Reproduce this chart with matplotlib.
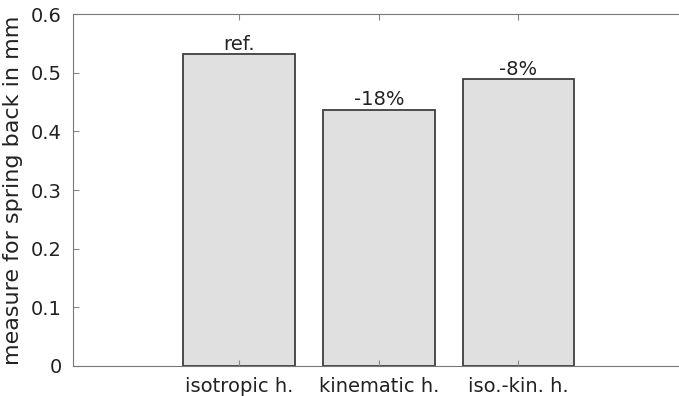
import matplotlib.pyplot as plt

# values
models = ['isotropic h.', 'kinematic h.', 'iso.-kin. h.']
springback = [0.531, 0.437, 0.489]
labels = ['ref.', '-18%', '-8%']

fig = plt.figure(figsize=(6.79, 3.96), dpi=100)
ax = fig.add_axes([0.1075, 0.0758, 0.8925, 0.8888])

pos = [1, 2, 3]
ax.bar(pos, springback, width=0.8, color='#e0e0e0', edgecolor='#3f3f3f', linewidth=1.3)
for x, y, t in zip(pos, springback, labels):
    ax.text(x, y + 0.001, t, ha='center', va='bottom', fontsize=14, color='#222222')

ax.set_xlim(-0.19, 4.15)
ax.set_ylim(0, 0.6)
ax.set_xticks(pos)
ax.set_xticklabels(models)
ax.set_yticks([0, 0.1, 0.2, 0.3, 0.4, 0.5, 0.6])
ax.set_yticklabels(['0', '0.1', '0.2', '0.3', '0.4', '0.5', '0.6'])
ax.set_ylabel('measure for spring back in mm', fontsize=16, color='#222222', labelpad=6)

ax.tick_params(direction='in', length=4, labelsize=14, colors='#888888', labelcolor='#222222',
               top=True)
ax.tick_params(axis='y', pad=8)
ax.tick_params(axis='x', pad=8)
for s in ['left', 'bottom', 'top']:
    ax.spines[s].set_color('#777777')
ax.spines['right'].set_visible(False)

fig.savefig('out.png', dpi=100)
